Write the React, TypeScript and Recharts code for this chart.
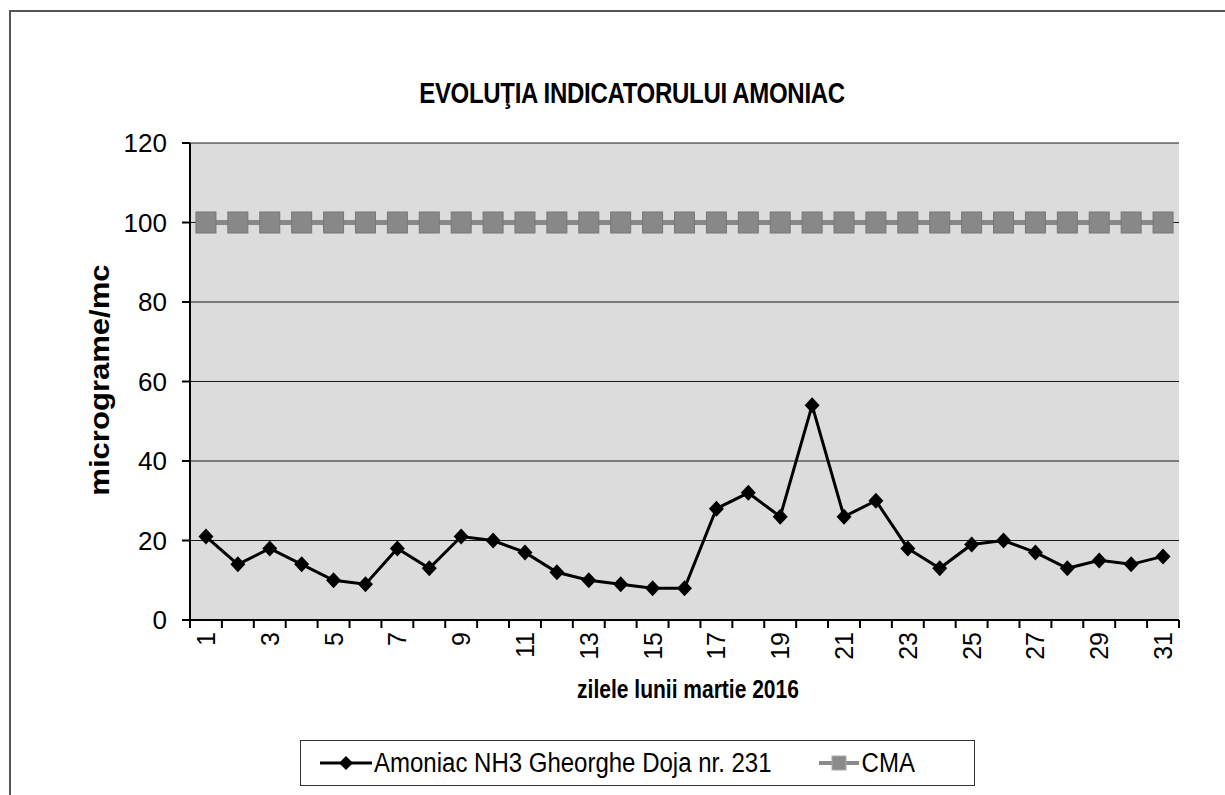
import React from 'react';
import { LineChart, Line, XAxis, YAxis, CartesianGrid, Legend } from 'recharts';

const zile = [
  '1', '2', '3', '4', '5', '6', '7', '8', '9', '10', '11', '12', '13', '14', '15', '16',
  '17', '18', '19', '20', '21', '22', '23', '24', '25', '26', '27', '28', '29', '30', '31',
];
const amoniac = [21, 14, 18, 14, 10, 9, 18, 13, 21, 20, 17, 12, 10, 9, 8, 8, 28, 32, 26, 54, 26, 30, 18, 13, 19, 20, 17, 13, 15, 14, 16];
const cma = [100, 100, 100, 100, 100, 100, 100, 100, 100, 100, 100, 100, 100, 100, 100, 100, 100, 100, 100, 100, 100, 100, 100, 100, 100, 100, 100, 100, 100, 100, 100];
const yTicks = [0, 20, 40, 60, 80, 100, 120];

const data = zile.map((zi, i) => ({ zi, amoniac: amoniac[i], cma: cma[i] }));

const FONT = '"Liberation Sans", Arial, sans-serif';
const W = 1217;
const H = 787;
const Y_AXIS_W = 60;
const margin = { top: 143, right: 38, left: 190 - Y_AXIS_W, bottom: 107 };
const plotW = W - margin.left - Y_AXIS_W - margin.right;
const step = plotW / zile.length;

const Diamond = (props: any) => {
  const { cx, cy } = props;
  if (cx == null || cy == null) return null;
  return <polygon points={`${cx},${cy - 8} ${cx + 7.5},${cy} ${cx},${cy + 8} ${cx - 7.5},${cy}`} fill="#000" />;
};

const Square = (props: any) => {
  const { cx, cy } = props;
  if (cx == null || cy == null) return null;
  return <rect x={cx - 10} y={cy - 10.5} width={20} height={21} fill="#888" stroke="#777" strokeWidth={1} />;
};

const ZiTick = (props: any) => {
  const { x, y, payload, index } = props;
  const left = x - step / 2;
  return (
    <g>
      <line x1={left} y1={y} x2={left} y2={y + 8} stroke="#000" strokeWidth={2} />
      {index === zile.length - 1 && (
        <line x1={x + step / 2} y1={y} x2={x + step / 2} y2={y + 8} stroke="#000" strokeWidth={2} />
      )}
      {index % 2 === 0 && (
        <text
          x={x}
          y={y + 12}
          transform={`rotate(-90 ${x} ${y + 12})`}
          textAnchor="end"
          dominantBaseline="central"
          fontSize={25}
          fontFamily={FONT}
          fill="#000"
        >
          {payload.value}
        </text>
      )}
    </g>
  );
};

const LegendaAmoniac = () => (
  <div
    style={{
      border: '1px solid #333',
      background: '#fff',
      height: 46,
      display: 'flex',
      alignItems: 'center',
      fontFamily: FONT,
      fontSize: 24,
      color: '#000',
      paddingLeft: 19,
      boxSizing: 'border-box',
    }}
  >
    <svg width={52} height={20}>
      <line x1={0} y1={10} x2={52} y2={10} stroke="#000" strokeWidth={3} />
      <polygon points="26,3 33,10 26,17 19,10" fill="#000" />
    </svg>
    <span style={{ marginLeft: 2, display: 'inline-block', transform: 'scaleY(1.15)' }}>
      Amoniac NH3 Gheorghe Doja nr. 231
    </span>
    <svg width={40} height={20} style={{ marginLeft: 47 }}>
      <line x1={0} y1={10} x2={40} y2={10} stroke="#8a8a8a" strokeWidth={4} />
      <rect x={13} y={3} width={14} height={14} fill="#8a8a8a" stroke="#aaa" />
    </svg>
    <span style={{ marginLeft: 3, display: 'inline-block', transform: 'scaleY(1.15)' }}>CMA</span>
  </div>
);

export default function App() {
  return (
    <div style={{ position: 'relative', width: 1225, height: 795, overflow: 'hidden', fontFamily: FONT }}>
      <style>{'body{margin:0;overflow:hidden}'}</style>
      <div
        style={{
          position: 'absolute',
          left: 9,
          top: 10,
          width: 1400,
          height: 1000,
          border: '2px solid #555',
          boxSizing: 'border-box',
        }}
      />
      <div
        style={{
          position: 'absolute',
          left: 332,
          top: 78,
          width: 600,
          height: 30,
          lineHeight: '30px',
          textAlign: 'center',
          fontSize: 24,
          letterSpacing: -0.3,
          fontWeight: 'bold',
          color: '#000',
          transform: 'scaleY(1.2)',
        }}
      >
        EVOLUŢIA INDICATORULUI AMONIAC
      </div>
      <div
        style={{
          position: 'absolute',
          left: 100 - 150,
          top: 380 - 16,
          width: 300,
          height: 32,
          lineHeight: '32px',
          textAlign: 'center',
          transform: 'rotate(-90deg) scaleX(1.15)',
          fontSize: 27,
          fontWeight: 'bold',
          color: '#000',
        }}
      >
        micrograme/mc
      </div>
      <div
        style={{
          position: 'absolute',
          left: 688 - 200,
          top: 676,
          width: 400,
          height: 28,
          lineHeight: '28px',
          textAlign: 'center',
          fontSize: 21,
          fontWeight: 'bold',
          color: '#000',
          transform: 'scaleY(1.2)',
        }}
      >
        zilele lunii martie 2016
      </div>
      <div style={{ position: 'absolute', left: 0, top: 0 }}>
        <LineChart width={W} height={H} data={data} margin={margin}>
          <CartesianGrid vertical={false} stroke="#1a1a1a" fill="#dcdcdc" />
          <XAxis
            dataKey="zi"
            interval={0}
            padding={{ left: step / 2, right: step / 2 }}
            tick={<ZiTick />}
            tickLine={false}
            tickSize={0}
            tickMargin={0}
            height={60}
            axisLine={{ stroke: '#000', strokeWidth: 2 }}
          />
          <YAxis
            domain={[0, 120]}
            ticks={yTicks}
            width={Y_AXIS_W}
            tick={{ fontSize: 26, fill: '#000', fontFamily: FONT }}
            tickSize={8}
            tickMargin={15}
            tickLine={{ stroke: '#000', strokeWidth: 2 }}
            axisLine={{ stroke: '#000', strokeWidth: 2 }}
          />
          <YAxis yAxisId="dreapta" orientation="right" width={0} tick={false} axisLine={{ stroke: '#222', strokeWidth: 2 }} />
          <Legend
            verticalAlign="middle"
            align="center"
            content={<LegendaAmoniac />}
            wrapperStyle={{ left: 300, top: 740, width: 675, height: 46 }}
          />
          <Line
            dataKey="cma"
            name="CMA"
            stroke="#888"
            strokeWidth={5}
            dot={<Square />}
            isAnimationActive={false}
          />
          <Line
            dataKey="amoniac"
            name="Amoniac NH3 Gheorghe Doja nr. 231"
            stroke="#000"
            strokeWidth={3}
            dot={<Diamond />}
            isAnimationActive={false}
          />
        </LineChart>
      </div>
    </div>
  );
}
